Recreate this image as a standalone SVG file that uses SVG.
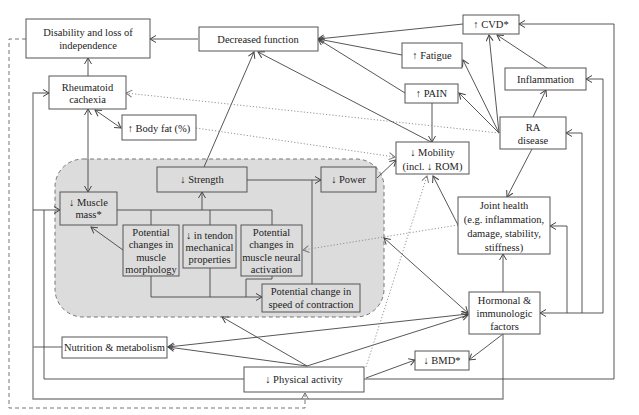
<svg xmlns="http://www.w3.org/2000/svg" width="639" height="415" viewBox="0 0 639 415">
<defs>
<marker id="a" markerUnits="userSpaceOnUse" markerWidth="10" markerHeight="10" refX="7" refY="4" orient="auto-start-reverse">
<path d="M1,0.5 L7,4 L1,7.5" fill="none" stroke="#444" stroke-width="1"/>
</marker>
<marker id="ad" markerUnits="userSpaceOnUse" markerWidth="10" markerHeight="10" refX="7" refY="4" orient="auto-start-reverse">
<path d="M1,0.5 L7,4 L1,7.5" fill="none" stroke="#777" stroke-width="1"/>
</marker>
<style>
.n rect{fill:#fff;stroke:#555;stroke-width:1}
.g rect{fill:#dcdcdc}
text{font-family:"Liberation Serif","DejaVu Serif",serif;font-size:10.5px;fill:#222;text-anchor:middle}
.c path{fill:none;stroke:#444;stroke-width:0.9}
.c .gr{stroke:#888;stroke-width:1.4}
.c .dot{stroke:#888;stroke-dasharray:1.2 2}
.c .dash{stroke:#666;stroke-dasharray:4 3}
</style>
</defs>
<rect width="639" height="415" fill="#fff"/>
<rect id="region" x="55" y="159" width="329" height="158" rx="28" fill="#dcdcdc" stroke="#777" stroke-dasharray="4 3"/>

<g class="c" id="connectors">
<path d="M198,39 L150,39" marker-end="url(#a)"/>
<path d="M88,76 L88,58" marker-end="url(#a)"/>
<path d="M88,109 L88,192" marker-start="url(#a)" marker-end="url(#a)"/>
<path d="M95,110 L121,128" marker-start="url(#a)" marker-end="url(#a)"/>
<path d="M204,167 L254,52" marker-end="url(#a)"/>
<path d="M431,142 L258,52" marker-end="url(#a)"/>
<path d="M463,24 L318,39" marker-end="url(#a)"/>
<path d="M402,55 L318,39" marker-end="url(#a)"/>
<path d="M405,93 L318,39" marker-end="url(#a)"/>
<path d="M432,103 L432,142" marker-end="url(#a)"/>
<path d="M499,133 L489,35" marker-end="url(#a)"/>
<path d="M547,68 L497,35" marker-end="url(#a)"/>
<path d="M499,133 L463,60" marker-end="url(#a)"/>
<path d="M499,133 L459,93" marker-end="url(#a)"/>
<path d="M533,117 L546,90" marker-end="url(#a)"/>
<path d="M532,149 L507,197" marker-end="url(#a)"/>
<path d="M458,225 L433,176" marker-end="url(#a)"/>
<path d="M377,178 L396,160" marker-end="url(#a)"/>
<path d="M247,180 L321,180" marker-end="url(#a)"/>
<path d="M312,284 L312,180"/>
<path d="M117,210 L272,210 M151,210 L151,225 M210,210 L210,225 M272,210 L272,225"/>
<path d="M202,210 L202,192" marker-end="url(#a)"/>
<path d="M123,250 L91,227" marker-end="url(#a)"/>
<path d="M151,276 L151,297 L262,297" marker-end="url(#a)"/>
<path d="M210,268 L210,297 M272,276 L272,279 L246,279 L246,297"/>
<path d="M384,238 L468,313" marker-start="url(#a)" marker-end="url(#a)"/>
<path d="M503,292 L503,254" marker-end="url(#a)"/>
<path d="M503,334 L469,360" marker-end="url(#a)"/>
<path d="M603,313 L540,313" marker-end="url(#a)"/>
<path d="M567,313 L567,226 L550,226" marker-end="url(#a)"/>
<path d="M582,313 L582,133 L566,133" marker-end="url(#a)"/>
<path d="M603,313 L603,79 L586,79" marker-end="url(#a)"/>
<path class="gr" d="M503,334 L503,399 L33,399 L33,93 L49,93" marker-end="url(#a)"/>
<path d="M33,210 L60,210" marker-end="url(#a)"/>
<path class="gr" d="M33,347 L62,347"/>
<path d="M244,379 L44,379 L44,210"/>
<path d="M364,379 L614,379 L614,24 L519,24" marker-end="url(#a)"/>
<path d="M366,378 L415,360" marker-end="url(#a)"/>
<path d="M307,366 L222,317" marker-end="url(#a)"/>
<path d="M307,366 L168,347" marker-end="url(#a)"/>
<path d="M468,314 L168,347" marker-start="url(#a)" marker-end="url(#a)"/>
<path d="M307,366 L468,315" marker-end="url(#a)"/>
<path class="dot" d="M499,133 L126,93" marker-end="url(#ad)"/>
<path class="dot" d="M196,128 L395,157" marker-end="url(#ad)"/>
<path class="dot" d="M458,225 L303,250" marker-end="url(#ad)"/>
<path class="dot" d="M366,367 L427,176" marker-end="url(#ad)"/>
<path class="dash" d="M26,39 L9,39 L9,408 L305,408 L305,393" marker-end="url(#ad)"/>
</g>

<g class="n" id="disability"><rect x="26" y="19" width="124" height="39"/><text x="88" y="35.5">Disability and loss of</text><text x="88" y="48.5">independence</text></g>
<g class="n" id="decreased"><rect x="199" y="27" width="119" height="24"/><text x="258" y="42.5">Decreased function</text></g>
<g class="n" id="cvd"><rect x="463" y="15" width="56" height="19"/><text x="491" y="28">↑ CVD*</text></g>
<g class="n" id="fatigue"><rect x="402" y="43" width="60" height="25"/><text x="432" y="59">↑ Fatigue</text></g>
<g class="n" id="pain"><rect x="405" y="84" width="53" height="19"/><text x="431.5" y="97">↑ PAIN</text></g>
<g class="n" id="inflammation"><rect x="505" y="68" width="81" height="22"/><text x="545.5" y="82.5">Inflammation</text></g>
<g class="n" id="ra"><rect x="500" y="117" width="66" height="32"/><text x="533" y="131">RA</text><text x="533" y="144">disease</text></g>
<g class="n" id="cachexia"><rect x="49" y="76" width="77" height="33"/><text x="87.5" y="90.5">Rheumatoid</text><text x="87.5" y="102.5">cachexia</text></g>
<g class="n" id="bodyfat"><rect x="122" y="115" width="74" height="25"/><text x="159" y="131.5">↑ Body fat (%)</text></g>
<g class="n" id="mobility"><rect x="396" y="142" width="73" height="32"/><text x="432.5" y="155.5">↓ Mobility</text><text x="432.5" y="169.5">(incl. ↓ ROM)</text></g>
<g class="n" id="joint"><rect x="458" y="197" width="92" height="57"/><text x="504" y="209">Joint health</text><text x="504" y="223">(e.g. inflammation,</text><text x="504" y="237">damage, stability,</text><text x="504" y="251">stiffness)</text></g>
<g class="n" id="hormonal"><rect x="469" y="292" width="71" height="42"/><text x="504.5" y="304">Hormonal &amp;</text><text x="504.5" y="317">immunologic</text><text x="504.5" y="330">factors</text></g>
<g class="n" id="bmd"><rect x="415" y="351" width="54" height="19"/><text x="442" y="364">↓ BMD*</text></g>
<g class="n" id="activity"><rect x="244" y="367" width="120" height="25"/><text x="304" y="383">↓ Physical activity</text></g>
<g class="n" id="nutrition"><rect x="62" y="337" width="105" height="21"/><text x="114.5" y="351">Nutrition &amp; metabolism</text></g>
<g class="n g" id="musclemass"><rect x="60" y="192" width="57" height="33"/><text x="88.5" y="205.5">↓ Muscle</text><text x="88.5" y="217.5">mass*</text></g>
<g class="n g" id="strength"><rect x="157" y="167" width="90" height="25"/><text x="202" y="183">↓ Strength</text></g>
<g class="n g" id="power"><rect x="321" y="167" width="55" height="25"/><text x="348.5" y="183">↓ Power</text></g>
<g class="n g" id="morphology"><rect x="123" y="225" width="56" height="51"/><text x="151" y="235.5">Potential</text><text x="151" y="248">changes in</text><text x="151" y="260.5">muscle</text><text x="151" y="273">morphology</text></g>
<g class="n g" id="tendon"><rect x="183" y="225" width="53" height="43"/><text x="209.5" y="238.5">↓ in tendon</text><text x="209.5" y="250.5">mechanical</text><text x="209.5" y="262.5">properties</text></g>
<g class="n g" id="neural"><rect x="241" y="225" width="61" height="51"/><text x="271.5" y="235.5">Potential</text><text x="271.5" y="248">changes in</text><text x="271.5" y="260.5">muscle neural</text><text x="271.5" y="273">activation</text></g>
<g class="n g" id="speed"><rect x="262" y="284" width="98" height="28"/><text x="311" y="294.5">Potential change in</text><text x="311" y="307.5">speed of contraction</text></g>
</svg>
